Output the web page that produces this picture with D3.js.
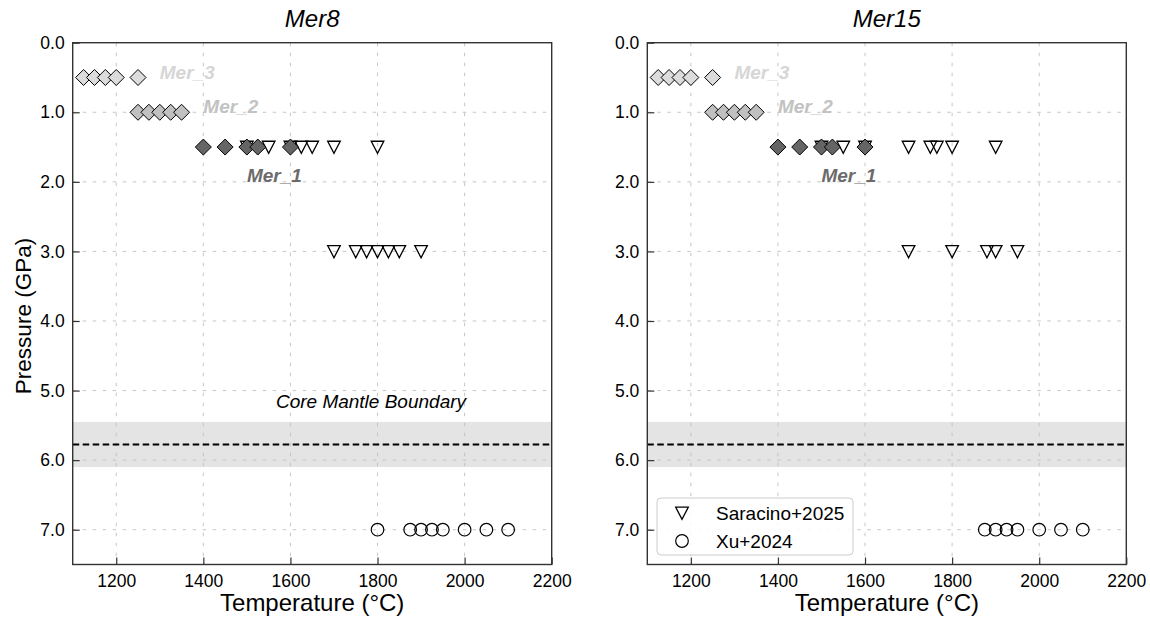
<!DOCTYPE html>
<html><head><meta charset="utf-8">
<script src="https://cdn.jsdelivr.net/npm/d3@7"></script>
<style>body{margin:0;background:#fff;} text{font-family:"Liberation Sans",Arial,sans-serif;}</style>
</head><body>
<svg id="c" width="1150" height="617"></svg>
<script>
// ---- data ----
const panels = ["Mer8", "Mer15"];
const xTicks = [1200, 1400, 1600, 1800, 2000, 2200];
const yTicks = [0, 1, 2, 3, 4, 5, 6, 7];
const mer3T = [1125, 1150, 1175, 1200, 1250]; const mer3P = 0.5;
const mer2T = [1250, 1275, 1300, 1325, 1350]; const mer2P = 1.0;
const mer1T = [1400, 1450, 1500, 1525, 1600]; const mer1P = 1.5;
// Saracino+2025 (triangles)
const sarMer8T15 = [1500, 1550, 1600, 1625, 1650, 1700, 1800];
const sarMer8T30 = [1700, 1750, 1775, 1800, 1825, 1850, 1900];
const sarMer15T15 = [1500, 1550, 1600, 1700, 1750, 1765, 1800, 1900];
const sarMer15T30 = [1700, 1800, 1880, 1900, 1950];
// Xu+2024 (circles) at 7 GPa
const xuMer8T = [1800, 1875, 1900, 1925, 1950, 2000, 2050, 2100];
const xuMer15T = [1875, 1900, 1925, 1950, 2000, 2050, 2100];
const xuP = 7.0;
const cmbP = 5.775, cmbLo = 5.45, cmbHi = 6.1;
const merLabels = [
  {name: "Mer_3", T: 1300, P: 0.43, color: "#d6d6d6"},
  {name: "Mer_2", T: 1400, P: 0.92, color: "#c2c2c2"},
  {name: "Mer_1", T: 1500, P: 1.91, color: "#6b6b6b"}
];
const merGroups = [
  {T: mer3T, P: mer3P, fill: "#dcdcdc"},
  {T: mer2T, P: mer2P, fill: "#c0c0c0"},
  {T: mer1T, P: mer1P, fill: "#656565"}
];
const sarData = [
  [{P: 1.5, T: sarMer8T15}, {P: 3.0, T: sarMer8T30}],
  [{P: 1.5, T: sarMer15T15}, {P: 3.0, T: sarMer15T30}]
];
const xuData = [xuMer8T, xuMer15T];

// ---- layout ----
const svg = d3.select("#c");
const boxes = [{x0: 72.7, x1: 551.7}, {x0: 647.3, x1: 1126.3}];
const yTop = 42.7, yBot = 564.5;

const triPath = "M-6.3,-5.8 L6.3,-5.8 L0,6.3 Z";
const diaPath = "M0,-8 L8,0 L0,8 L-8,0 Z";

panels.forEach((name, i) => {
  const b = boxes[i];
  const x = d3.scaleLinear().domain([1100, 2200]).range([b.x0, b.x1]);
  const y = d3.scaleLinear().domain([0, 7.5]).range([yTop, yBot]);
  const g = svg.append("g");

  // CMB band
  g.append("rect").attr("x", b.x0).attr("width", b.x1 - b.x0)
    .attr("y", y(cmbLo)).attr("height", y(cmbHi) - y(cmbLo)).attr("fill", "#e4e4e4");

  // grid
  g.selectAll(".vg").data(xTicks.filter(t => t < 2200)).join("line")
    .attr("x1", d => x(d)).attr("x2", d => x(d)).attr("y1", yTop).attr("y2", yBot)
    .attr("stroke", "#c0c0c0").attr("stroke-width", 0.9).attr("stroke-dasharray", "3.5,6.5");
  g.selectAll(".hg").data(yTicks.filter(t => t > 0)).join("line")
    .attr("x1", b.x0).attr("x2", b.x1).attr("y1", d => y(d)).attr("y2", d => y(d))
    .attr("stroke", "#c0c0c0").attr("stroke-width", 0.9).attr("stroke-dasharray", "3.5,6.5");

  // CMB line
  g.append("line").attr("x1", b.x0).attr("x2", b.x1).attr("y1", y(cmbP)).attr("y2", y(cmbP))
    .attr("stroke", "#000").attr("stroke-width", 1.8).attr("stroke-dasharray", "6.5,3.5");

  if (i === 0) {
    g.append("text").attr("x", x(1785)).attr("y", y(5.25)).attr("text-anchor", "middle")
      .attr("font-style", "italic").attr("font-size", 19).text("Core Mantle Boundary");
  }

  // axes
  const xa = d3.axisBottom(x).tickValues(xTicks).tickSize(-7).tickPadding(10).tickFormat(d3.format("d"));
  const ya = d3.axisLeft(y).tickValues(yTicks).tickSize(-7).tickPadding(8).tickFormat(d3.format(".1f"));
  const gx = g.append("g").attr("transform", `translate(0,${yBot})`).call(xa);
  const gy = g.append("g").attr("transform", `translate(${b.x0},0)`).call(ya);
  [gx, gy].forEach(a => {
    a.select(".domain").remove();
    a.selectAll("line").attr("stroke", "#333").attr("stroke-width", 1.2);
    a.selectAll("text").attr("font-size", 17.5).attr("fill", "#000")
      .style("font-family", '"Liberation Sans",Arial,sans-serif');
  });

  // triangles
  sarData[i].forEach(s => {
    g.selectAll(null).data(s.T).join("path")
      .attr("d", triPath).attr("transform", d => `translate(${x(d)},${y(s.P)})`)
      .attr("fill", "none").attr("stroke", "#000").attr("stroke-width", 1.3);
  });
  // circles
  g.selectAll(null).data(xuData[i]).join("circle")
    .attr("cx", d => x(d)).attr("cy", y(xuP)).attr("r", 6.3)
    .attr("fill", "none").attr("stroke", "#000").attr("stroke-width", 1.2);
  // diamonds
  merGroups.forEach(m => {
    g.selectAll(null).data(m.T).join("path")
      .attr("d", diaPath).attr("transform", d => `translate(${x(d)},${y(m.P)})`)
      .attr("fill", m.fill).attr("stroke", "#000").attr("stroke-width", 1);
  });
  // labels
  merLabels.forEach(l => {
    g.append("text").attr("x", x(l.T)).attr("y", y(l.P)).attr("dy", "0.35em")
      .attr("font-size", 19).attr("font-weight", "bold").attr("font-style", "italic")
      .attr("fill", l.color).text(l.name);
  });

  // frame
  g.append("rect").attr("x", b.x0).attr("y", yTop).attr("width", b.x1 - b.x0).attr("height", yBot - yTop)
    .attr("fill", "none").attr("stroke", "#333").attr("stroke-width", 1.4);

  // title
  g.append("text").attr("x", (b.x0 + b.x1) / 2).attr("y", 27).attr("text-anchor", "middle")
    .attr("font-style", "italic").attr("font-size", 24).text(name);
  // x label
  g.append("text").attr("x", (b.x0 + b.x1) / 2).attr("y", 611).attr("text-anchor", "middle")
    .attr("font-size", 24).text("Temperature (°C)");

  if (i === 1) {
    // legend
    const lg = g.append("g");
    lg.append("rect").attr("x", 657).attr("y", 498).attr("width", 196).attr("height", 57).attr("rx", 4)
      .attr("fill", "#fff").attr("fill-opacity", 0.85).attr("stroke", "#cccccc").attr("stroke-width", 1);
    lg.append("path").attr("d", triPath).attr("transform", "translate(682,513)")
      .attr("fill", "none").attr("stroke", "#000").attr("stroke-width", 1.3);
    lg.append("circle").attr("cx", 682).attr("cy", 541).attr("r", 6.3)
      .attr("fill", "none").attr("stroke", "#000").attr("stroke-width", 1.2);
    lg.append("text").attr("x", 716).attr("y", 513).attr("dy", "0.35em").attr("font-size", 19).text("Saracino+2025");
    lg.append("text").attr("x", 716).attr("y", 541).attr("dy", "0.35em").attr("font-size", 19).text("Xu+2024");
  }
});
// y label
svg.append("text").attr("transform", `translate(31,316) rotate(-90)`)
  .attr("text-anchor", "middle").attr("font-size", 22.5).text("Pressure (GPa)");
</script>
</body></html>
